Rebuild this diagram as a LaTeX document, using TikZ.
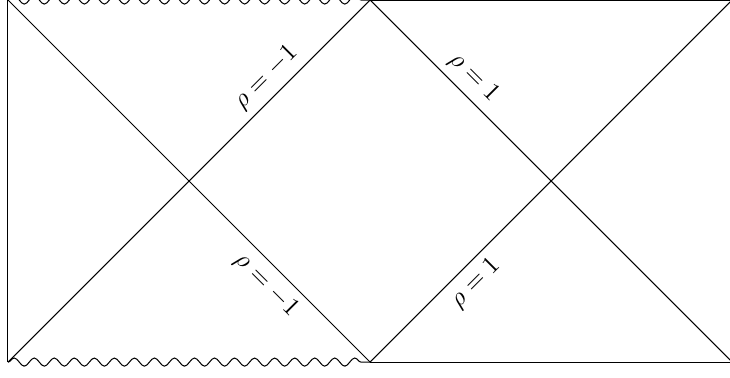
\documentclass[tikz,border=0pt]{standalone}
\usetikzlibrary{decorations.pathmorphing}
\tikzset{
  wavy/.style={decorate,decoration={snake,segment length=7.87pt,amplitude=1.6pt}},
  lbl/.style={sloped,font=\normalsize,inner sep=3pt}
}
\begin{document}
\begin{tikzpicture}[line width=0.4pt]
\useasboundingbox (-0.11,-0.207) rectangle (9.97,5.0);
\coordinate (A) at (0,0);
\coordinate (B) at (0,5);
\coordinate (C) at (5,0);
\coordinate (D) at (5,5);
\coordinate (E) at (10,0);
\coordinate (F) at (10,5);
\draw (A) -- (B);
\draw[wavy] (B) -- (D);
\draw[wavy] (A) -- (C);
\draw (D) -- (F);
\draw (C) -- (E);
\draw (A) -- node[lbl,above,pos=0.75] (l1) {$\rho=-1$} (D);
\draw (B) -- node[lbl,below,pos=0.75] (l2) {$\rho=-1$} (C);
\draw (D) -- node[lbl,above,pos=0.25] (l3) {$\rho=1$} (E);
\draw (C) -- node[lbl,below,pos=0.255] (l4) {$\rho=1$} (F);
\end{tikzpicture}
\end{document}
